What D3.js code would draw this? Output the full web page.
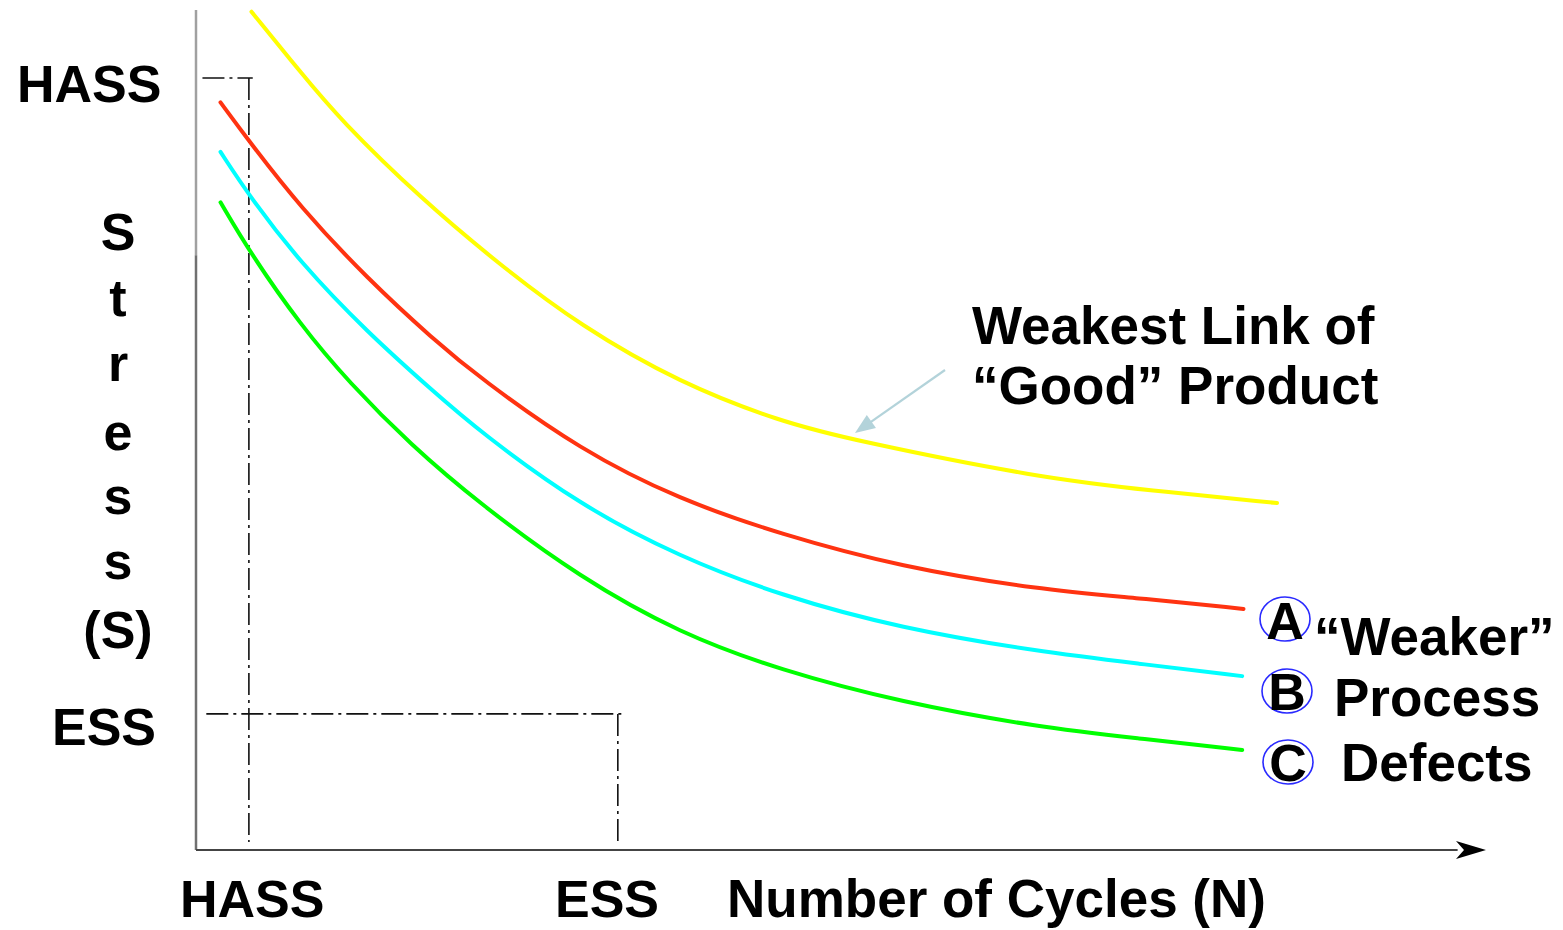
<!DOCTYPE html>
<html>
<head>
<meta charset="utf-8">
<script src="https://cdn.jsdelivr.net/npm/d3@7"></script>
<style>
  html, body { margin: 0; padding: 0; background: #fff; }
  svg { display: block; }
  text { font-family: "Liberation Sans", Arial, Helvetica, sans-serif; font-weight: bold; fill: #000; }
</style>
</head>
<body>
<svg id="chart" width="1563" height="930"></svg>
<script>
// ---- data (arbitrary units: N cycles 0..100, Stress 0..100) ----
const seriesNames = ["Weakest Link", "A", "B", "C"];
const seriesColors = ["#ffff00", "#ff3311", "#00ffff", "#00ff00"];

const weakestN = [4.3, 8.1, 11.2, 17.4, 23.6, 29.8, 37.5, 45.3, 50.9, 65.4, 74.0, 83.8];
const weakestS = [99.8, 92.6, 86.9, 77.6, 69.6, 62.4, 55.6, 51.0, 48.8, 44.3, 42.8, 41.3];

const aN = [1.9, 4.2, 8.1, 13.3, 18.4, 22.0, 29.8, 37.5, 45.3, 54.6, 65.4, 73.0, 81.2];
const aS = [89.0, 84.2, 76.5, 68.0, 60.8, 56.2, 47.6, 41.7, 37.6, 33.7, 31.0, 30.0, 28.7];

const bN = [1.9, 4.2, 8.1, 13.3, 18.4, 22.0, 29.8, 37.5, 45.3, 54.6, 65.4, 73.0, 81.1];
const bS = [83.1, 77.7, 69.9, 61.6, 54.6, 49.8, 41.0, 34.9, 30.3, 26.4, 23.6, 22.2, 20.7];

const cN = [1.9, 4.2, 8.1, 11.9, 16.6, 22.0, 29.8, 37.5, 45.3, 54.6, 65.4, 73.0, 81.1];
const cS = [77.1, 71.1, 62.5, 55.6, 48.3, 41.2, 32.4, 25.8, 21.4, 17.6, 14.6, 13.3, 11.9];

// reference levels
const hassN = 4.1, essN = 32.7;
const hassS = 91.9, essS = 16.2;

const yTickLabels = ["HASS", "ESS"];
const xTickLabels = ["HASS", "ESS"];
const xTitle = "Number of Cycles (N)";
const yTitleLetters = ["S", "t", "r", "e", "s", "s", "(S)"];
const annotationLines = ["Weakest Link of", "\u201CGood\u201D Product"];
const legendLetters = ["A", "B", "C"];
const legendTexts = ["\u201CWeaker\u201D", "Process", "Defects"];

// ---- drawing ----
const svg = d3.select("#chart");
const x = d3.scaleLinear().domain([0, 100]).range([196, 1486]);
const y = d3.scaleLinear().domain([0, 100]).range([850, 10]);

// axes (y axis drawn lighter at top, darker below)
svg.append("line").attr("x1", x(0)).attr("x2", x(0)).attr("y1", y(100)).attr("y2", y(70.8))
  .attr("stroke", "#a0a0a0").attr("stroke-width", 2.5);
svg.append("line").attr("x1", x(0)).attr("x2", x(0)).attr("y1", y(70.8)).attr("y2", y(0))
  .attr("stroke", "#707070").attr("stroke-width", 2.5);
svg.append("line").attr("x1", x(0)).attr("x2", x(97.8)).attr("y1", y(0)).attr("y2", y(0))
  .attr("stroke", "#444").attr("stroke-width", 2.2);
// arrow head
const tipX = x(100), tipY = y(0);
svg.append("path")
  .attr("d", `M${tipX},${tipY} L${tipX - 30},${tipY - 9} L${tipX - 22},${tipY} L${tipX - 30},${tipY + 9} Z`)
  .attr("fill", "#000");

// dash-dot reference lines
const dash = "22,5,3,5";
const refStyle = sel => sel.attr("stroke", "#111").attr("stroke-width", 1.6).attr("stroke-dasharray", dash).attr("fill", "none");
svg.append("line").attr("x1", x(0.5)).attr("x2", x(hassN + 0.3)).attr("y1", y(hassS)).attr("y2", y(hassS)).call(refStyle);
svg.append("line").attr("x1", x(hassN)).attr("x2", x(hassN)).attr("y1", y(hassS)).attr("y2", y(0.95)).call(refStyle);
svg.append("line").attr("x1", x(0.8)).attr("x2", x(essN + 0.4)).attr("y1", y(essS)).attr("y2", y(essS)).call(refStyle);
svg.append("line").attr("x1", x(essN)).attr("x2", x(essN)).attr("y1", y(essS)).attr("y2", y(0.6)).call(refStyle);

// curves
const series = [
  {N: weakestN, S: weakestS},
  {N: aN, S: aS},
  {N: bN, S: bS},
  {N: cN, S: cS}
];
const line = d3.line().x(d => x(d[0])).y(d => y(d[1])).curve(d3.curveBasis);
series.forEach((s, i) => {
  const pts = s.N.map((n, k) => [n, s.S[k]]);
  svg.append("path").datum(pts).attr("d", line)
    .attr("fill", "none").attr("stroke", seriesColors[i]).attr("stroke-width", 4)
    .attr("stroke-linecap", "round");
});

const FS = 52, FL = 53;
// y labels
svg.append("text").attr("x", 17).attr("y", 102).attr("font-size", FS).text(yTickLabels[0]);
svg.append("text").attr("x", 52).attr("y", 745).attr("font-size", FS).text(yTickLabels[1]);
// y title vertical letters
const letterBase = [250, 316, 381, 450, 514, 579, 648];
yTitleLetters.forEach((l, i) => {
  svg.append("text").attr("x", 118).attr("y", letterBase[i]).attr("text-anchor", "middle")
    .attr("font-size", FS).text(l);
});
// x labels
svg.append("text").attr("x", 180).attr("y", 917).attr("font-size", FS).text(xTickLabels[0]);
svg.append("text").attr("x", 555).attr("y", 917).attr("font-size", FS).text(xTickLabels[1]);
svg.append("text").attr("x", 727).attr("y", 917).attr("font-size", FL).text(xTitle);

// annotation
svg.append("text").attr("x", 972).attr("y", 344).attr("font-size", FL).text(annotationLines[0]);
svg.append("text").attr("x", 972).attr("y", 404).attr("font-size", FL).text(annotationLines[1]);
const ax1 = 945, ay1 = 370, ax2 = 855, ay2 = 433;
const ang = Math.atan2(ay2 - ay1, ax2 - ax1);
const hl = 20, hw = 8;
svg.append("line").attr("x1", ax1).attr("y1", ay1)
  .attr("x2", ax2 - Math.cos(ang) * hl * 0.8).attr("y2", ay2 - Math.sin(ang) * hl * 0.8)
  .attr("stroke", "#b3d3da").attr("stroke-width", 2.2);
const bx = ax2 - Math.cos(ang) * hl, by = ay2 - Math.sin(ang) * hl;
svg.append("path")
  .attr("d", `M${ax2},${ay2} L${bx + Math.sin(ang) * hw},${by - Math.cos(ang) * hw} L${bx - Math.sin(ang) * hw},${by + Math.cos(ang) * hw} Z`)
  .attr("fill", "#b3d3da");

// legend letters in circles
const legCircle = [[1285, 619], [1287, 691], [1288, 762]];
const legLetterBase = [639, 710, 781];
const legTextPos = [[1314, 655], [1334, 716], [1341, 781]];
legendLetters.forEach((l, i) => {
  svg.append("ellipse").attr("cx", legCircle[i][0]).attr("cy", legCircle[i][1])
    .attr("rx", 25).attr("ry", 22).attr("fill", "none").attr("stroke", "#2a2aff").attr("stroke-width", 1.6);
  svg.append("text").attr("x", legCircle[i][0]).attr("y", legLetterBase[i]).attr("text-anchor", "middle")
    .attr("font-size", FS).text(l);
  svg.append("text").attr("x", legTextPos[i][0]).attr("y", legTextPos[i][1]).attr("font-size", FL).text(legendTexts[i]);
});
</script>
</body>
</html>
